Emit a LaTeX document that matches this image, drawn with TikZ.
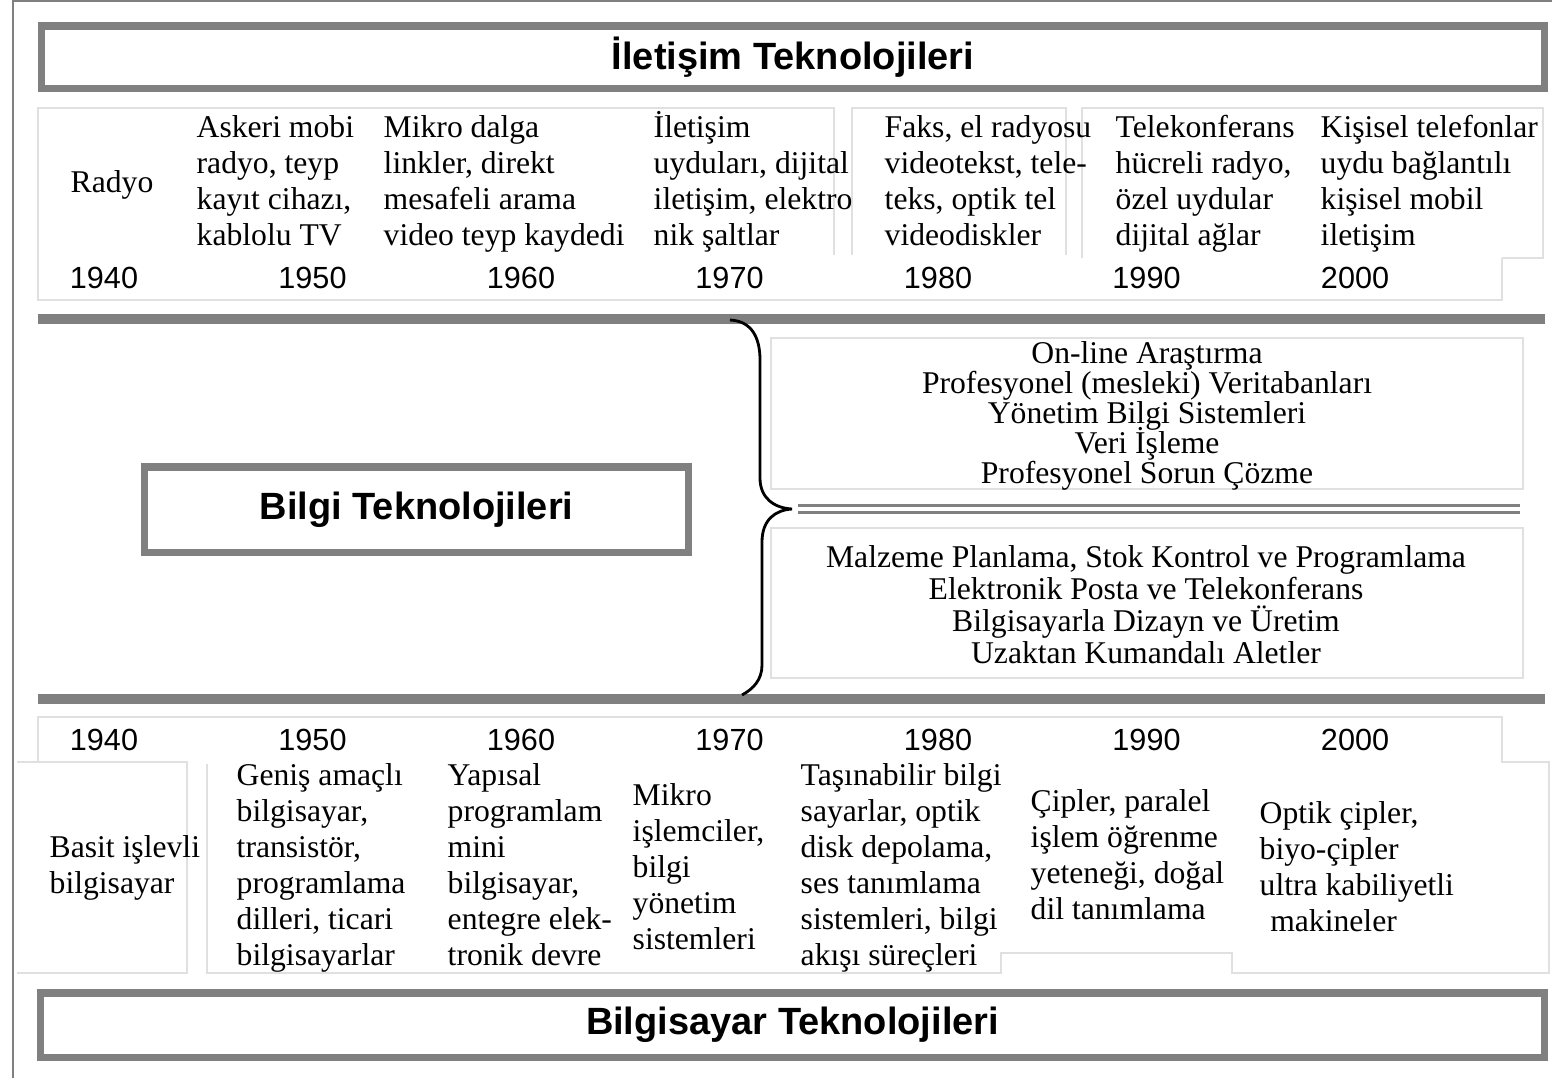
\documentclass[tikz,border=0pt]{standalone}
\usepackage{fontspec}
\setmainfont{Liberation Serif}
\newfontfamily\yearface{Liberation Sans}
\newfontfamily\headface{Liberation Sans}
\newcommand\rowtop{\rule{0pt}{9pt}}
\begin{document}
\lineskiplimit=-100pt
\begin{tikzpicture}[x=0.01cm, y=-0.01cm]
    \tikzstyle{every node}=[inner sep=0pt]
    \tikzstyle{headbox}=[draw=gray, line width=2pt, font=\headface\bfseries\fontsize{10.8}{13}\selectfont]
    \tikzstyle{cell}=[draw=black!12, line width=0.4pt]
    \tikzstyle{bar}=[draw=gray, line width=2.6pt]
    \tikzstyle{entry}=[font=\fontsize{9}{10.24}\selectfont, align=left, anchor=north west]
    \tikzstyle{year}=[font=\yearface\fontsize{8.7}{10}\selectfont]
    \tikzstyle{item}=[font=\fontsize{9}{8.55}\selectfont, align=center]
    \useasboundingbox (0,0) rectangle (1552,1078);
    \draw[gray, line width=0.6pt] (13,1078) -- (13,1) -- (1552,1);

    % title boxes
    \node[headbox, minimum width=15.02cm, minimum height=0.62cm] (comm) at (793,57) {İletişim Teknolojileri};
    \node[headbox, minimum width=5.43cm, minimum height=0.85cm] (info) at (416.5,509.5) {Bilgi Teknolojileri};
    \node[headbox, minimum width=15.03cm, minimum height=0.64cm] (comp) at (792.5,1025) {Bilgisayar Teknolojileri};

    % faint cells, top row
    \draw[cell] (834,255) -- (834,108) -- (38,108) -- (38,300) -- (1502,300) -- (1502,258);
    \draw[cell] (852,255) -- (852,108) -- (1066,108) -- (1066,255);
    \draw[cell] (1082,258) -- (1082,108) -- (1543,108) -- (1543,258) -- (1502,258);
    % faint cells, bottom row
    \draw[cell] (38,762) -- (38,717) -- (1502,717) -- (1502,762) -- (1549,762) -- (1549,973) -- (1232,973)
        -- (1232,953) -- (1001,953) -- (1001,973) -- (207,973) -- (207,764);
    \draw[cell] (17,762) -- (187,762) -- (187,973) -- (17,973);
    \draw[cell] (771,338) rectangle (1523,489);
    \draw[cell] (771,528) rectangle (1523,678);

    % bars
    \draw[bar] (38,319) -- (1545,319);
    \draw[bar] (38,699) -- (1545,699);

    % brace
    \draw[line width=0.8pt] (730,320) .. controls (752,321) and (760,338) .. (760,360) -- (760,478)
        .. controls (760,498) and (774,508) .. (792,509)
        .. controls (775,510) and (762,520) .. (762,542) -- (762,665)
        .. controls (762,680) and (753,689) .. (742,695);
    \coordinate (tip) at (798,509);
    \coordinate (tail) at (1520,509);
    \draw[gray, line width=0.9pt, double=white, double distance=1.1pt] (tip) -- (tail);

    % years
    \foreach \yr [count=\i from 0] in {1940,1950,1960,1970,1980,1990,2000} {
        \node[year] (t\yr) at (104+208.5*\i,278) {\yr};
        \node[year] (b\yr) at (104+208.5*\i,740) {\yr};
    }

    % communication (first baseline at 137)
    \node[entry, anchor=west] (radyo) at (70,185) {Radyo};
    \node[entry] (c50) at (196,105.4) {\rowtop Askeri mobi\\radyo, teyp\\kayıt cihazı,\\kablolu TV};
    \node[entry] (c60) at (383,105.4) {\rowtop Mikro dalga\\linkler, direkt\\mesafeli arama\\video teyp kaydedi};
    \node[entry] (c70) at (653,105.4) {\rowtop İletişim\\uyduları, dijital\\iletişim, elektro\\nik şaltlar};
    \node[entry] (c80) at (884,105.4) {\rowtop Faks, el radyosu\\videotekst, tele-\\teks, optik tel\\videodiskler};
    \node[entry] (c90) at (1115,105.4) {\rowtop Telekonferans\\hücreli radyo,\\özel uydular\\dijital ağlar};
    \node[entry] (c00) at (1320,105.4) {\rowtop Kişisel telefonlar\\uydu bağlantılı\\kişisel mobil\\iletişim};

    % information
    \node[item] (upper) at (1147,416) {On-line Araştırma\\Profesyonel (mesleki) Veritabanları\\Yönetim Bilgi Sistemleri\\Veri İşleme\\Profesyonel Sorun Çözme};
    \node[item, font=\fontsize{9}{9.1}\selectfont] (lower) at (1146,605) {Malzeme Planlama, Stok Kontrol ve Programlama\\Elektronik Posta ve Telekonferans\\Bilgisayarla Dizayn ve Üretim\\Uzaktan Kumandalı Aletler};

    % computers
    \node[entry] (p40) at (49,825.4) {\rowtop Basit işlevli\\bilgisayar};
    \node[entry] (p50) at (236,753.4) {\rowtop Geniş amaçlı\\bilgisayar,\\transistör,\\programlama\\dilleri, ticari\\bilgisayarlar};
    \node[entry] (p60) at (447,753.4) {\rowtop Yapısal\\programlam\\mini\\bilgisayar,\\entegre elek-\\tronik devre};
    \node[entry] (p70) at (632,773.4) {\rowtop Mikro\\işlemciler,\\bilgi\\yönetim\\sistemleri};
    \node[entry] (p80) at (800,753.4) {\rowtop Taşınabilir bilgi\\sayarlar, optik\\disk depolama,\\ses tanımlama\\sistemleri, bilgi\\akışı süreçleri};
    \node[entry] (p90) at (1030,779.4) {\rowtop Çipler, paralel\\işlem öğrenme\\yeteneği, doğal\\dil tanımlama};
    \node[entry] (p00) at (1259,791.4) {\rowtop Optik çipler,\\biyo-çipler\\ultra kabiliyetli\\\hspace*{3pt}makineler};
\end{tikzpicture}
\end{document}
